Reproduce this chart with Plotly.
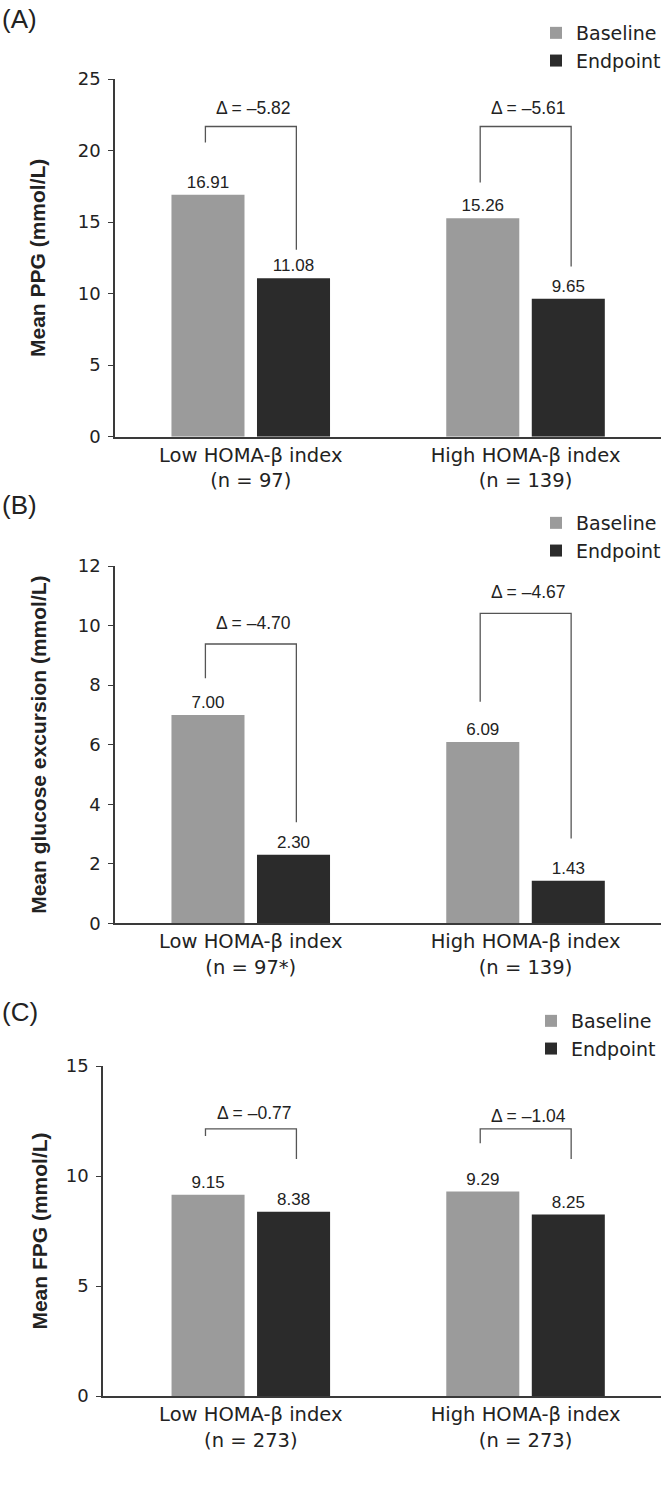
import plotly.graph_objects as go

# ---------------- data ----------------
categories = ["Low HOMA-β index", "High HOMA-β index"]
n_labels_A = ["(n = 97)", "(n = 139)"]
n_labels_B = ["(n = 97*)", "(n = 139)"]
n_labels_C = ["(n = 273)", "(n = 273)"]
series_names = ["Baseline", "Endpoint"]

ppg_baseline = [16.91, 15.26]
ppg_endpoint = [11.08, 9.65]
ppg_delta = ["Δ = –5.82", "Δ = –5.61"]

exc_baseline = [7.00, 6.09]
exc_endpoint = [2.30, 1.43]
exc_delta = ["Δ = –4.70", "Δ = –4.67"]

fpg_baseline = [9.15, 9.29]
fpg_endpoint = [8.38, 8.25]
fpg_delta = ["Δ = –0.77", "Δ = –1.04"]

# bracket levels in data units (left leg bottom, top, right leg bottom, label)
ppg_br_left = [20.56, 17.76]
ppg_br_top = [21.68, 21.68]
ppg_br_right = [13.06, 11.9]
ppg_br_label = [22.98, 22.98]

exc_br_left = [8.23, 7.44]
exc_br_top = [9.38, 10.41]
exc_br_right = [3.39, 2.85]
exc_br_label = [10.09, 11.13]

fpg_br_left = [11.82, 11.49]
fpg_br_top = [12.14, 12.14]
fpg_br_right = [10.77, 10.77]
fpg_br_label = [12.85, 12.74]

y_titles = ["Mean PPG (mmol/L)", "Mean glucose excursion (mmol/L)", "Mean FPG (mmol/L)"]
y_ranges = [[0, 25], [0, 12], [0, 15]]
y_dtick = [5, 2, 5]
panel_labels = ["(A)", "(B)", "(C)"]

# ---------------- layout constants ----------------
W, H = 666, 1488
C_BASE = "#9b9b9b"
C_END = "#2b2b2b"
AX = "#3a3a3a"
TXT = "#222222"
SANS = "Liberation Sans"
WIDE = "DejaVu Sans"

def py(px):
    return 1 - px / H

panels = [
    dict(base=ppg_baseline, end=ppg_endpoint, delta=ppg_delta, nl=n_labels_A,
         brl=ppg_br_left, brt=ppg_br_top, brr=ppg_br_right, brlab=ppg_br_label,
         ydom=[py(436.7), py(79)], xleft=115, xr=[-0.494, 1.493],
         leg_top=14, leg_x=1.0, lab_y=19, standoff=26),
    dict(base=exc_baseline, end=exc_endpoint, delta=exc_delta, nl=n_labels_B,
         brl=exc_br_left, brt=exc_br_top, brr=exc_br_right, brlab=exc_br_label,
         ydom=[py(923.3), py(566)], xleft=115, xr=[-0.494, 1.493],
         leg_top=504, leg_x=1.0, lab_y=505, standoff=25),
    dict(base=fpg_baseline, end=fpg_endpoint, delta=fpg_delta, nl=n_labels_C,
         brl=fpg_br_left, brt=fpg_br_top, brr=fpg_br_right, brlab=fpg_br_label,
         ydom=[py(1396), py(1066)], xleft=103, xr=[-0.538, 1.493],
         leg_top=1002, leg_x=1 - 5 / W, lab_y=1012, standoff=12),
]

fig = go.Figure()
shapes = []
annotations = []
xpos = list(range(len(categories)))
leg_names = ["legend", "legend2", "legend3"]

for i, p in enumerate(panels):
    sfx = "" if i == 0 else str(i + 1)
    xa, ya = "x" + sfx, "y" + sfx
    for name, vals, col in [(series_names[0], p["base"], C_BASE),
                            (series_names[1], p["end"], C_END)]:
        fig.add_trace(go.Bar(
            x=xpos, y=vals, name=name, marker=dict(color=col, line=dict(width=0)),
            text=[f"{v:.2f}" for v in vals], textposition="outside",
            textfont=dict(family=SANS, size=17, color=TXT),
            cliponaxis=False, xaxis=xa, yaxis=ya, legend=leg_names[i],
            hoverinfo="skip"))
    # brackets
    for j in range(len(categories)):
        xl, xr = j - 0.165, j + 0.166
        shapes.append(dict(
            type="path", xref=xa, yref=ya,
            path=f"M {xl},{p['brl'][j]} L {xl},{p['brt'][j]} L {xr},{p['brt'][j]} L {xr},{p['brr'][j]}",
            line=dict(color="#555555", width=1.3)))
        annotations.append(dict(
            x=j + 0.01, y=p["brlab"][j], xref=xa, yref=ya, text=p["delta"][j],
            showarrow=False, yanchor="middle", xanchor="center",
            font=dict(family=SANS, size=17.5, color=TXT)))
    # panel label
    annotations.append(dict(
        x=0, y=py(p["lab_y"]), xref="paper", yref="paper", text=panel_labels[i],
        showarrow=False, xanchor="left", yanchor="middle",
        font=dict(family=SANS, size=26, color=TXT)))
    ticktext = [f"{c}<br>{n}" for c, n in zip(categories, p["nl"])]
    fig.update_layout({
        "xaxis" + sfx: dict(
            domain=[p["xleft"] / W, 661 / W], range=p["xr"], anchor=ya,
            tickvals=xpos, ticktext=ticktext, showline=True, linecolor=AX,
            linewidth=1.5, ticks="", showgrid=False, zeroline=False,
            automargin=False,
            tickfont=dict(family=WIDE, size=19.5, color=TXT), fixedrange=True),
        "yaxis" + sfx: dict(
            domain=p["ydom"], range=y_ranges[i], dtick=y_dtick[i], anchor=xa,
            showline=True, linecolor=AX, linewidth=1.5, ticks="outside",
            ticklen=5, tickwidth=1.3, tickcolor=AX, showgrid=False,
            zeroline=False, ticklabelstandoff=4, automargin=False,
            tickfont=dict(family=WIDE, size=18, color=TXT),
            title=dict(text=y_titles[i], standoff=p["standoff"],
                       font=dict(family=SANS, size=21, color=TXT, weight="bold"))),
        leg_names[i]: dict(
            x=p["leg_x"], y=py(p["leg_top"]), xanchor="right", yanchor="top",
            bgcolor="rgba(0,0,0,0)", borderwidth=0, traceorder="normal",
            font=dict(family=WIDE, size=19, color=TXT)),
    })

fig.update_layout(
    width=W, height=H, margin=dict(l=0, r=0, t=0, b=0, autoexpand=False),
    paper_bgcolor="white", plot_bgcolor="white",
    barmode="group", bargap=0.3775, bargroupgap=0.146,
    shapes=shapes, annotations=annotations, showlegend=True,
)

fig.write_html("out.html", config={"displayModeBar": False},
               post_script="document.body.style.margin='0px';")
